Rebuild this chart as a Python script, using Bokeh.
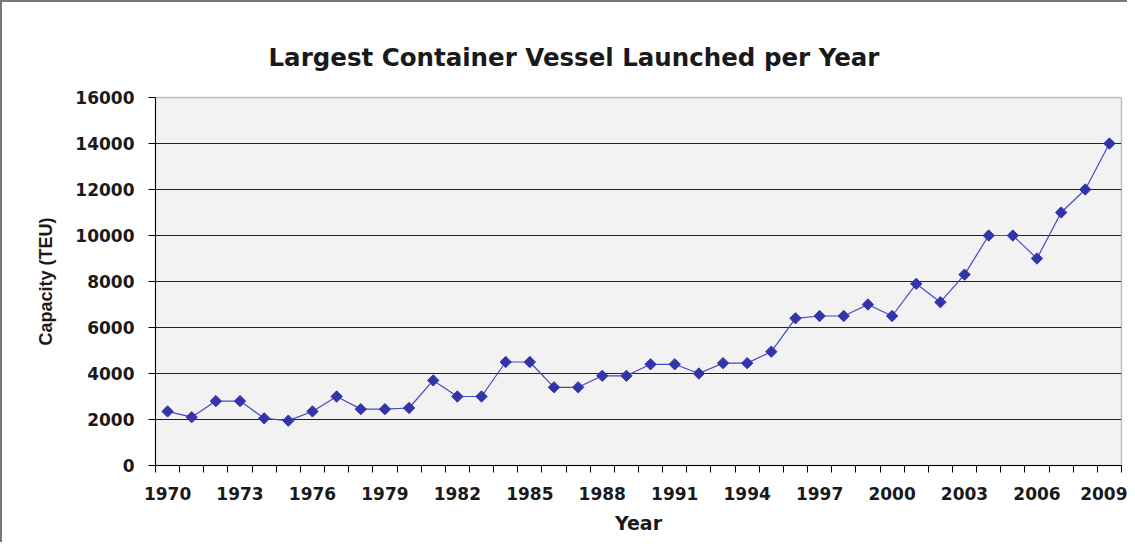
import math
from bokeh.plotting import figure
from bokeh.models import FixedTicker, Range1d, ColumnDataSource
from bokeh.embed import file_html
from bokeh.resources import INLINE

title_text = "Largest Container Vessel Launched per Year"
years = list(range(1970, 2010))
capacity = [2350, 2100, 2800, 2800, 2050, 1950, 2350, 3000, 2450, 2450,
            2500, 3700, 3000, 3000, 4500, 4500, 3400, 3400, 3900, 3900,
            4400, 4400, 4000, 4450, 4450, 4950, 6400, 6500, 6500, 7000,
            6500, 7900, 7100, 8300, 10000, 10000, 9000, 11000, 12000, 14000]
y_ticks = [0, 2000, 4000, 6000, 8000, 10000, 12000, 14000, 16000]
label_step = 3

idx = list(range(len(years)))
src = ColumnDataSource(dict(x=idx, y=capacity))

p = figure(width=1127, height=542, output_backend="svg", toolbar_location=None,
           x_range=Range1d(-0.5, len(years) - 0.5), y_range=Range1d(0, 16000),
           min_border_left=153, min_border_right=8, min_border_top=95,
           min_border_bottom=79)
p.styles = {"border-left": "2px solid #777777", "border-top": "2px solid #777777"}

TFONT = "DejaVu Sans"
AFONT = "Liberation Sans"
TXT = "#1a1a1a"

p.title.text = title_text
p.title.text_font = TFONT
p.title.text_font_size = "24.5px"
p.title.text_font_style = "bold"
p.title.text_color = TXT
p.title.align = "left"
p.title.offset = 113
p.title.vertical_align = "top"
p.title.standoff = 47

p.background_fill_color = "#f2f2f2"
p.border_fill_color = "white"
p.outline_line_color = "#c0c0c0"
p.outline_line_width = 1.5

# y axis
p.yaxis.ticker = FixedTicker(ticks=y_ticks)
p.yaxis.major_label_text_font = TFONT
p.yaxis.major_label_text_font_size = "17px"
p.yaxis.major_label_text_font_style = "bold"
p.yaxis.major_label_text_color = TXT
p.yaxis.major_tick_out = 7
p.yaxis.major_tick_in = 0
p.yaxis.minor_tick_line_color = None
p.yaxis.axis_line_color = "black"
p.yaxis.major_tick_line_color = "black"
p.yaxis.major_label_standoff = 14
p.yaxis.axis_label = "Capacity (TEU)"
p.yaxis.axis_label_text_font = AFONT
p.yaxis.axis_label_text_font_size = "18px"
p.yaxis.axis_label_text_font_style = "bold"
p.yaxis.axis_label_text_color = TXT
p.yaxis.axis_label_standoff = 16

# x axis: labels every 3rd category, ticks between categories
label_pos = idx[::label_step]
boundaries = [i - 0.5 for i in idx] + [len(idx) - 0.5]
p.xaxis.ticker = FixedTicker(ticks=label_pos, minor_ticks=boundaries)
p.xaxis.major_label_overrides = {i: str(years[i]) for i in label_pos}
p.xaxis.major_tick_line_color = None
p.xaxis.minor_tick_line_color = "black"
p.xaxis.minor_tick_out = 7
p.xaxis.minor_tick_in = 0
p.xaxis.axis_line_color = "black"
p.xaxis.major_label_text_font = TFONT
p.xaxis.major_label_text_font_size = "17px"
p.xaxis.major_label_text_font_style = "bold"
p.xaxis.major_label_text_color = TXT
p.xaxis.major_label_standoff = 14
p.xaxis.axis_label = "Year"
p.xaxis.axis_label_text_font = TFONT
p.xaxis.axis_label_text_font_size = "19px"
p.xaxis.axis_label_text_font_style = "bold"
p.xaxis.axis_label_text_color = TXT
p.xaxis.axis_label_standoff = 9

p.xgrid.grid_line_color = None
p.ygrid.grid_line_color = "#222222"
p.ygrid.grid_line_width = 1

p.line("x", "y", source=src, line_color="#4848c0", line_width=1.2)
p.scatter("x", "y", source=src, marker="square", size=8, angle=math.pi / 4,
          fill_color="#3333aa", line_color="#3333aa")

open("out.html", "w").write(file_html(p, INLINE))
